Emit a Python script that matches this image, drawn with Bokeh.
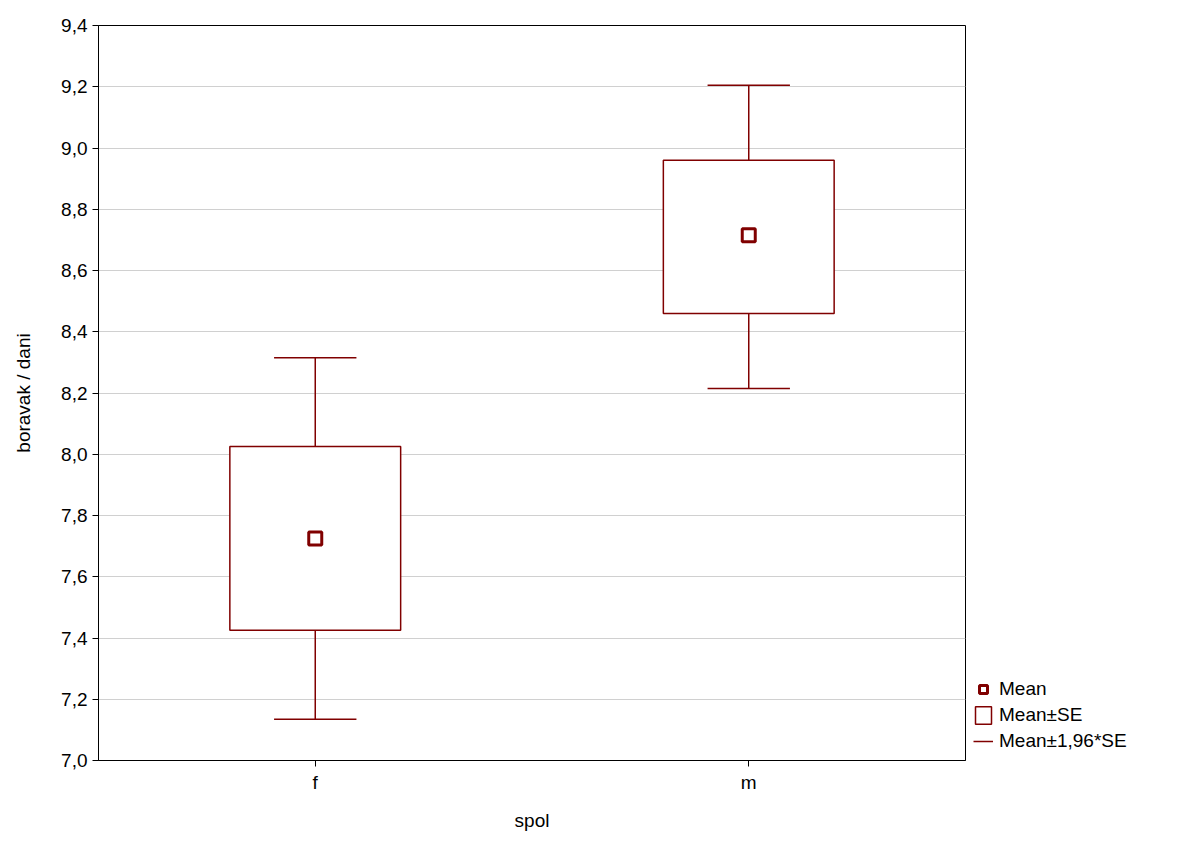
from bokeh.plotting import figure
from bokeh.models import Range1d, FixedTicker, Legend, LegendItem, ColumnDataSource
from bokeh.embed import file_html
from bokeh.resources import INLINE

groups = ["f", "m"]
xpos = [0.5, 1.5]
means = [7.725, 8.715]
se_lo = [7.425, 8.46]
se_hi = [8.025, 8.96]
ci_lo = [7.135, 8.215]
ci_hi = [8.315, 9.205]
yticks = [7.0, 7.2, 7.4, 7.6, 7.8, 8.0, 8.2, 8.4, 8.6, 8.8, 9.0, 9.2, 9.4]

col = "#800000"
font = "Liberation Sans"

p = figure(frame_width=867, frame_height=735, output_backend="svg", toolbar_location=None,
           x_range=Range1d(0, 2), y_range=Range1d(7.0, 9.4),
           x_axis_label="spol", y_axis_label="boravak / dani")
p.min_border_left = 98
p.min_border_right = 0
p.min_border_top = 25
p.min_border_bottom = 67
p.outline_line_color = "black"
p.outline_line_width = 1
p.background_fill_color = "white"
p.xgrid.grid_line_color = None
p.ygrid.grid_line_color = "#d0d0d0"
p.ygrid.ticker = FixedTicker(ticks=yticks)

p.yaxis.ticker = FixedTicker(ticks=yticks)
p.yaxis.major_label_overrides = {t: f"{t:.1f}".replace(".", ",") for t in yticks}
p.xaxis.ticker = FixedTicker(ticks=xpos)
p.xaxis.major_label_overrides = {x: g for x, g in zip(xpos, groups)}
for ax in (p.xaxis, p.yaxis):
    ax.major_label_text_font = font
    ax.major_label_text_font_size = "19px"
    ax.major_label_text_color = "black"
    ax.axis_label_text_font = font
    ax.axis_label_text_font_size = "19px"
    ax.axis_label_text_font_style = "normal"
    ax.axis_label_text_color = "black"
    ax.minor_tick_line_color = None
    ax.major_tick_out = 6
    ax.major_tick_in = 0
    ax.axis_line_color = "black"
p.xaxis.axis_label_standoff = 14
p.yaxis.axis_label_standoff = 24

src = ColumnDataSource(dict(x=xpos, mean=means, slo=se_lo, shi=se_hi, clo=ci_lo, chi=ci_hi,
                            left=[x - 0.197 for x in xpos], right=[x + 0.197 for x in xpos],
                            cl=[x - 0.095 for x in xpos], cr=[x + 0.095 for x in xpos]))

w1 = p.segment(x0="x", x1="x", y0="shi", y1="chi", source=src, line_color=col, line_width=1.5)
p.segment(x0="x", x1="x", y0="clo", y1="slo", source=src, line_color=col, line_width=1.5)
p.segment(x0="cl", x1="cr", y0="chi", y1="chi", source=src, line_color=col, line_width=1.5)
p.segment(x0="cl", x1="cr", y0="clo", y1="clo", source=src, line_color=col, line_width=1.5)
box = p.quad(left="left", right="right", bottom="slo", top="shi", source=src,
             fill_color="white", line_color=col, line_width=1.5)
m = p.scatter(x="x", y="mean", source=src, marker="square", size=13,
              fill_color="white", line_color=col, line_width=3)

legend = Legend(items=[LegendItem(label="Mean", renderers=[m]),
                       LegendItem(label="Mean±SE", renderers=[box]),
                       LegendItem(label="Mean±1,96*SE", renderers=[w1])],
                location="bottom_left", border_line_color=None, background_fill_alpha=0,
                label_text_font=font, label_text_font_size="19px", label_text_color="black",
                spacing=4, padding=2, margin=8, glyph_width=20, glyph_height=22,
                label_standoff=6)
p.add_layout(legend, "right")

open("out.html", "w").write(file_html(p, INLINE))
